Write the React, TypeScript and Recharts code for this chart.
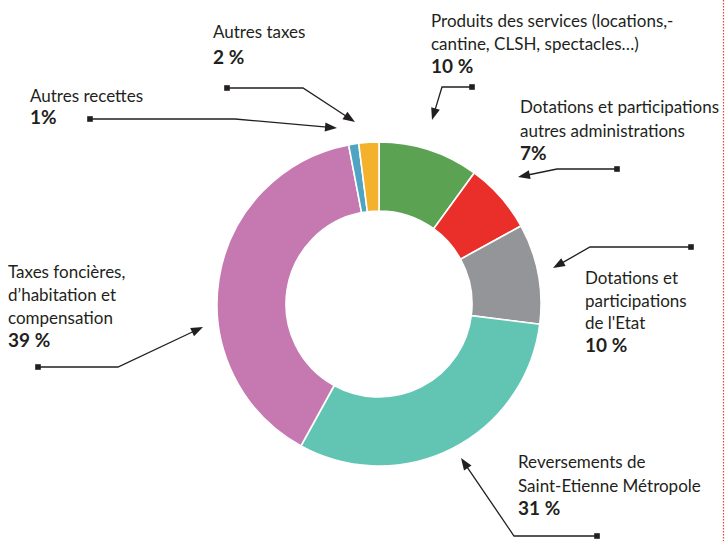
import React from 'react';
import { PieChart, Pie, Cell } from 'recharts';

// ---- data ----
const categories = [
  'Produits des services',
  'Dotations et participations autres administrations',
  "Dotations et participations de l'Etat",
  'Reversements de Saint-Etienne Métropole',
  "Taxes foncières, d’habitation et compensation",
  'Autres recettes',
  'Autres taxes',
];
const values = [10, 7, 10, 31, 39, 1, 2];
const labelLines = [
  ['Produits des services (locations,-', 'cantine, CLSH, spectacles…)'],
  ['Dotations et participations', 'autres administrations'],
  ['Dotations et', 'participations', "de l'Etat"],
  ['Reversements de', 'Saint-Etienne Métropole'],
  ['Taxes foncières,', 'd’habitation et', 'compensation'],
  ['Autres recettes'],
  ['Autres taxes'],
];
const pctLabels = ['10 %', '7%', '10 %', '31 %', '39 %', '1%', '2 %'];

// ---- styles / layout ----
const colors = ['#5ba352', '#ea2f2b', '#939598', '#62c5b3', '#c679b0', '#4ea4c2', '#f3b12c'];
const layout = [
  { x: 431, base: [26.5, 50, 73], path: [[472, 87], [442, 87], [432, 120]] },
  { x: 520, base: [113, 136.5, 160], path: [[617, 169], [557, 169], [518, 177]] },
  { x: 585, base: [284, 306.5, 329, 351.5], path: [[691, 247], [590, 247], [553, 268]] },
  { x: 518, base: [468, 491.5, 515], path: [[597, 536], [514, 536], [461, 458]] },
  { x: 8, base: [278, 301, 324, 347], path: [[38, 367], [118, 367], [203, 327]] },
  { x: 30, base: [102, 123.5], path: [[90, 119], [235, 119], [337, 128]] },
  { x: 213, base: [38, 63.5], path: [[227, 88], [303, 88], [355, 122]] },
];

const data = categories.map((c, i) => ({ name: c, value: values[i] }));
const FONT = 'Lato, "Open Sans", sans-serif';
const INK = '#231f20';

function Arrow({ path }: { path: number[][] }) {
  const n = path.length;
  const [tx, ty] = path[n - 1];
  const [px, py] = path[n - 2];
  const dx = tx - px, dy = ty - py;
  const len = Math.sqrt(dx * dx + dy * dy);
  const ux = dx / len, uy = dy / len;
  const L = 12, W = 4.5;
  const bx = tx - ux * L, by = ty - uy * L;
  const p1 = `${bx - uy * W},${by + ux * W}`;
  const p2 = `${bx + uy * W},${by - ux * W}`;
  const pts = path.slice(0, n - 1).map((p) => p.join(',')).join(' ') + ` ${bx + ux * 2},${by + uy * 2}`;
  const [mx, my] = path[0];
  return (
    <g>
      <polyline points={pts} fill="none" stroke={INK} strokeWidth={1.3} />
      <polygon points={`${tx},${ty} ${p1} ${p2}`} fill={INK} />
      <rect x={mx - 2.8} y={my - 2.8} width={5.6} height={5.6} fill={INK} />
    </g>
  );
}

export default function App() {
  return (
    <div style={{ position: 'absolute', left: 0, top: 0, width: 726, height: 541, background: '#fff' }}>
      <PieChart width={726} height={541} margin={{ top: 0, right: 0, bottom: 0, left: 0 }}>
        <Pie
          data={data}
          dataKey="value"
          cx={379}
          cy={304}
          innerRadius={93}
          outerRadius={162}
          startAngle={90}
          endAngle={-270}
          stroke="#ffffff"
          strokeWidth={1.6}
          isAnimationActive={false}
        >
          {data.map((d, i) => (
            <Cell key={d.name} fill={colors[i]} />
          ))}
        </Pie>
      </PieChart>
      <svg width={726} height={541} style={{ position: 'absolute', left: 0, top: 0, pointerEvents: 'none' }}>
        <line x1={723.5} y1={0} x2={723.5} y2={541} stroke="#e8413a" strokeWidth={1.2} strokeDasharray="1.4 1.6" />
        {layout.map((l, i) => (
          <g key={i}>
            {labelLines[i].map((t, j) => (
              <text key={j} x={l.x} y={l.base[j]} fontFamily={FONT} fontSize={17} fill={INK}>
                {t}
              </text>
            ))}
            <text x={l.x} y={l.base[labelLines[i].length]} fontFamily={FONT} fontSize={19} fontWeight="bold" fill={INK}>
              {pctLabels[i]}
            </text>
            <Arrow path={l.path} />
          </g>
        ))}
      </svg>
    </div>
  );
}
